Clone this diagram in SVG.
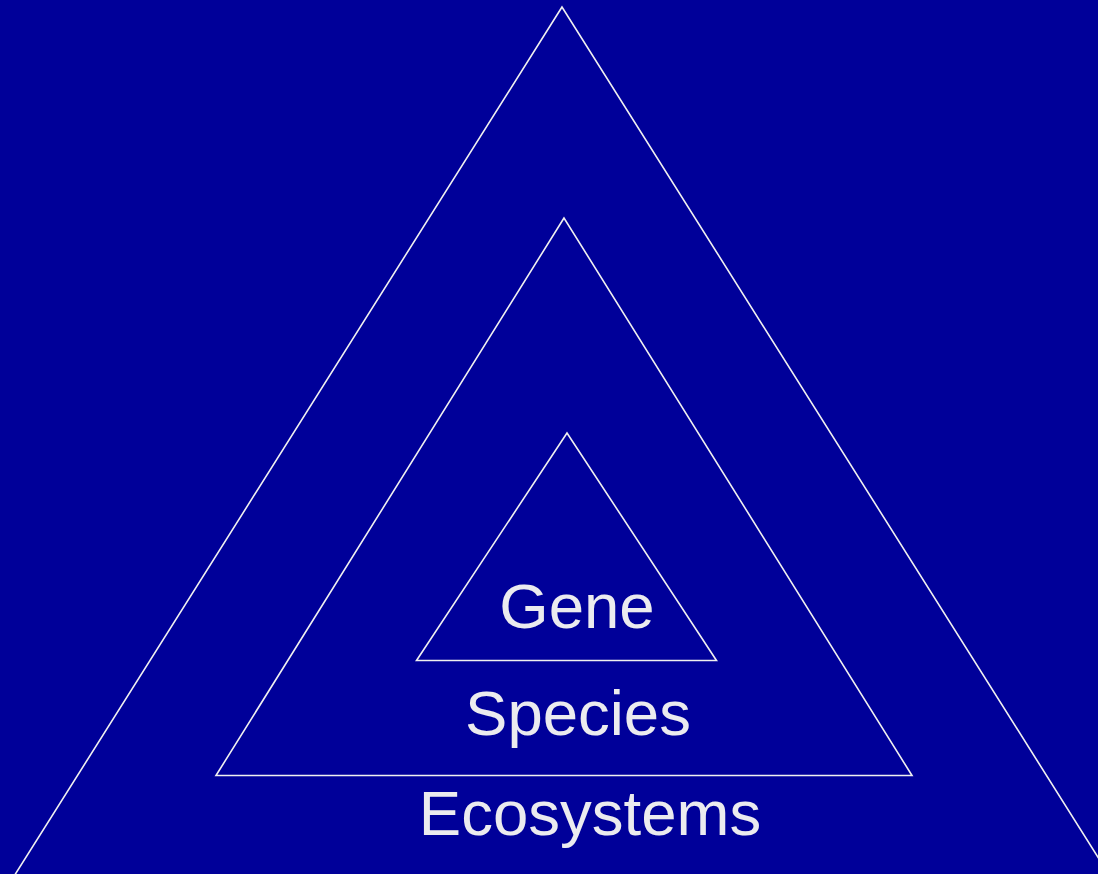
<svg xmlns="http://www.w3.org/2000/svg" width="1098" height="874" viewBox="0 0 1098 874">
<style>
.tri{fill:none;stroke:#f0f0f0;stroke-width:1.6;stroke-linejoin:miter}
.lbl{font-family:"Liberation Sans",Arial,sans-serif;font-size:63.5px;fill:#ebebef;text-anchor:middle}
</style>
<rect x="0" y="0" width="1098" height="874" fill="#000099"/>
<g id="ecosystems">
<polygon class="tri" points="562,7 -1,900 1125,900"/>
<text class="lbl" x="590" y="835">Ecosystems</text>
</g>
<g id="species">
<polygon class="tri" points="564,218 216,775.5 912,775.5"/>
<text class="lbl" x="578" y="735">Species</text>
</g>
<g id="gene">
<polygon class="tri" points="567,433 416.5,660.5 716.5,660.5"/>
<text class="lbl" x="577" y="628">Gene</text>
</g>
<g id="connectors"/>
</svg>
